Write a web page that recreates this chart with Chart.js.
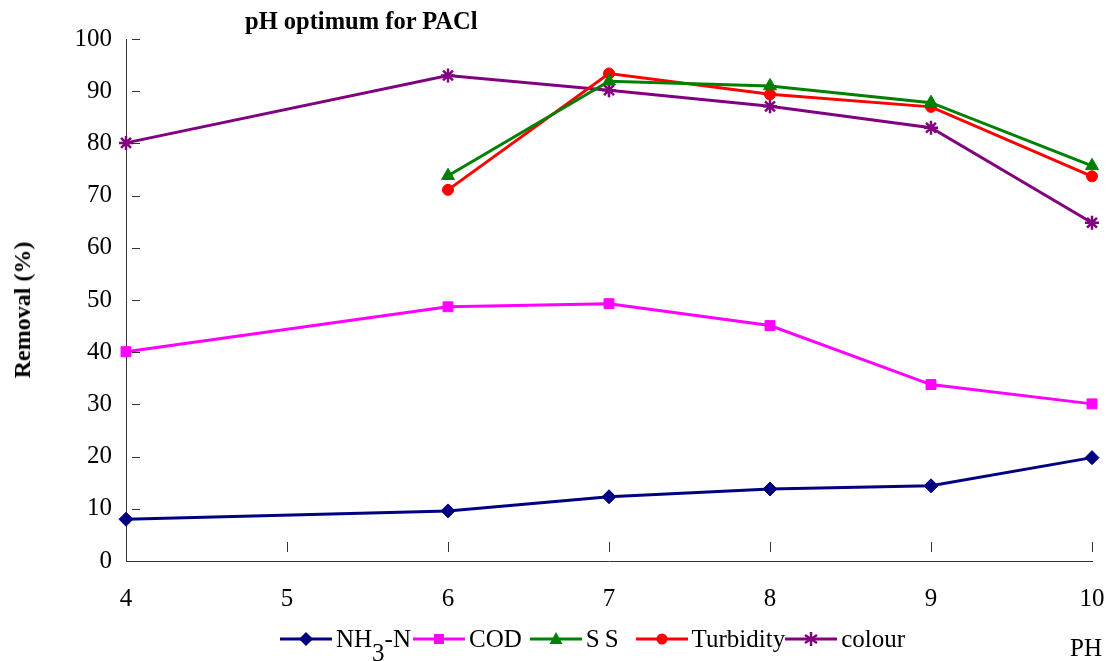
<!DOCTYPE html>
<html>
<head>
<meta charset="utf-8">
<script src="https://cdn.jsdelivr.net/npm/chart.js@4.4.1/dist/chart.umd.min.js"></script>
<style>
  html, body { margin:0; padding:0; background:#fff; }
  #wrap { position:relative; width:1115px; height:661px; font-family:"Liberation Serif", "Times New Roman", serif; }
  #title { position:absolute; left:245px; top:6px; font-size:24.5px; font-weight:bold; line-height:30px; }
  #ytitle { position:absolute; left:22px; top:310px; transform:translate(-50%,-50%) rotate(-90deg); font-size:24px; font-weight:bold; white-space:nowrap; line-height:28px; }
  #legend { position:absolute; left:280px; top:624px; display:flex; align-items:center; font-size:25px; line-height:30px; }
  #legend .item { display:flex; align-items:center; }
  #legend svg { display:block; }
  #legend span { margin-left:4px; margin-right:2px; }
  #phLabel { position:absolute; left:1070px; top:633px; font-size:25px; line-height:30px; }
</style>
</head>
<body>
<div id="wrap">
  <canvas id="c" width="1115" height="661"></canvas>
  <div id="title">pH optimum for PACl</div>
  <div id="ytitle">Removal (%)</div>
  <div id="legend"></div>
  <div id="phLabel">PH</div>
</div>
<script>
(function(){
  // pH values (5 has no measurements, lines bridge over it)
  const phLabels = ['4', '5', '6', '7', '8', '9', '10'];
  const nh3n      = [8.0, null, 9.6, 12.3, 13.8, 14.4, 19.8];
  const cod       = [40.1, null, 48.7, 49.3, 45.1, 33.8, 30.1];
  const ss        = [null, null, 73.8, 91.9, 91.0, 87.8, 75.7];
  const turbidity = [null, null, 71.1, 93.4, 89.4, 87.0, 73.7];
  const colour    = [80.1, null, 93.0, 90.2, 87.1, 83.0, 64.8];
  const yTicks    = [10, 20, 30, 40, 50, 60, 70, 80, 90, 100];

  const series = [
    { name:'NH3-N', html:'NH<sub style="font-size:25px;position:relative;top:14px;vertical-align:baseline">3</sub>-N', data:nh3n, color:'#000080', style:'rectRot', r:7, gap:2 },
    { name:'COD', html:'COD', data:cod, color:'#FF00FF', style:'rect', r:7, gap:8 },
    { name:'SS', html:'<span style="letter-spacing:5px;margin:0">SS</span>', data:ss, color:'#008000', style:'triangle', r:7.5, gap:12 },
    { name:'Turbidity', html:'Turbidity', data:turbidity, color:'#FF0000', style:'circle', r:5.5, gap:0 },
    { name:'colour', html:'colour', data:colour, color:'#800080', style:'star', r:7, gap:0 }
  ];

  const tickMarks = {
    id:'tickMarks',
    afterDraw(chart){
      const ctx = chart.ctx, x = chart.scales.x, y = chart.scales.y;
      ctx.save();
      ctx.strokeStyle = '#333'; ctx.lineWidth = 1;
      yTicks.forEach(v=>{
        const py = Math.round(y.getPixelForValue(v)) + 0.5;
        ctx.beginPath(); ctx.moveTo(x.left + 6, py); ctx.lineTo(x.left + 14, py); ctx.stroke();
      });
      for(let i=1;i<phLabels.length;i++){
        const px = Math.round(x.getPixelForValue(i)) + 0.5;
        ctx.beginPath(); ctx.moveTo(px, y.bottom - 19); ctx.lineTo(px, y.bottom - 9); ctx.stroke();
      }
      ctx.restore();
    }
  };

  const font = { family:'"Liberation Serif", "Times New Roman", serif', size:25 };

  new Chart(document.getElementById('c'), {
    type:'line',
    data:{
      labels: phLabels,
      datasets: series.map(s=>({
        label: s.name, data: s.data,
        borderColor: s.color, backgroundColor: s.color,
        borderWidth: 3, tension: 0, spanGaps: true,
        pointStyle: s.style, pointRadius: s.r, pointHoverRadius: s.r,
        pointBackgroundColor: s.color, pointBorderColor: s.color,
        pointBorderWidth: s.style === 'star' ? 2.5 : 1
      }))
    },
    options:{
      responsive:false, animation:false,
      layout:{ padding:{ top:39, right:23, bottom:0, left:0 } },
      plugins:{ legend:{ display:false }, tooltip:{ enabled:false } },
      scales:{
        x:{
          type:'category', offset:false,
          grid:{ display:true, drawOnChartArea:false, drawTicks:false },
          border:{ display:true, color:'#333', width:1 },
          ticks:{ color:'#000', font, padding:23, maxRotation:0, autoSkip:false },
          afterFit(scale){ scale.height = 100; scale.paddingRight = 0; scale.paddingLeft = 0; }
        },
        y:{
          min:0, max:100,
          grid:{ display:true, drawOnChartArea:false, drawTicks:false },
          border:{ display:true, color:'#333', width:1 },
          ticks:{ stepSize:10, color:'#000', font, padding:14 },
          afterFit(scale){ scale.width = 126; scale.paddingTop = 0; scale.paddingBottom = 0; }
        }
      }
    },
    plugins:[tickMarks]
  });

  // legend: line with marker, then label
  function icon(s){
    const c = s.color, cx = 26, cy = 15, r = s.r;
    let m = '';
    if(s.style === 'rectRot') m = `<polygon points="${cx},${cy-r} ${cx+r},${cy} ${cx},${cy+r} ${cx-r},${cy}" fill="${c}"/>`;
    else if(s.style === 'rect') m = `<rect x="${cx-5}" y="${cy-5}" width="10" height="10" fill="${c}"/>`;
    else if(s.style === 'triangle') m = `<polygon points="${cx},${cy-7} ${cx+6.5},${cy+5} ${cx-6.5},${cy+5}" fill="${c}"/>`;
    else if(s.style === 'circle') m = `<circle cx="${cx}" cy="${cy}" r="5.5" fill="${c}"/>`;
    else m = `<g stroke="${c}" stroke-width="2.5"><line x1="${cx}" y1="${cy-7}" x2="${cx}" y2="${cy+7}"/><line x1="${cx-6}" y1="${cy-4}" x2="${cx+6}" y2="${cy+4}"/><line x1="${cx-6}" y1="${cy+4}" x2="${cx+6}" y2="${cy-4}"/></g>`;
    return `<svg width="52" height="30"><line x1="0" y1="${cy}" x2="52" y2="${cy}" stroke="${c}" stroke-width="3"/>${m}</svg>`;
  }
  document.getElementById('legend').innerHTML = series.map(s=>`<div class="item">${icon(s)}<span style="margin-right:${s.gap}px">${s.html}</span></div>`).join('');
})();
</script>
</body>
</html>
